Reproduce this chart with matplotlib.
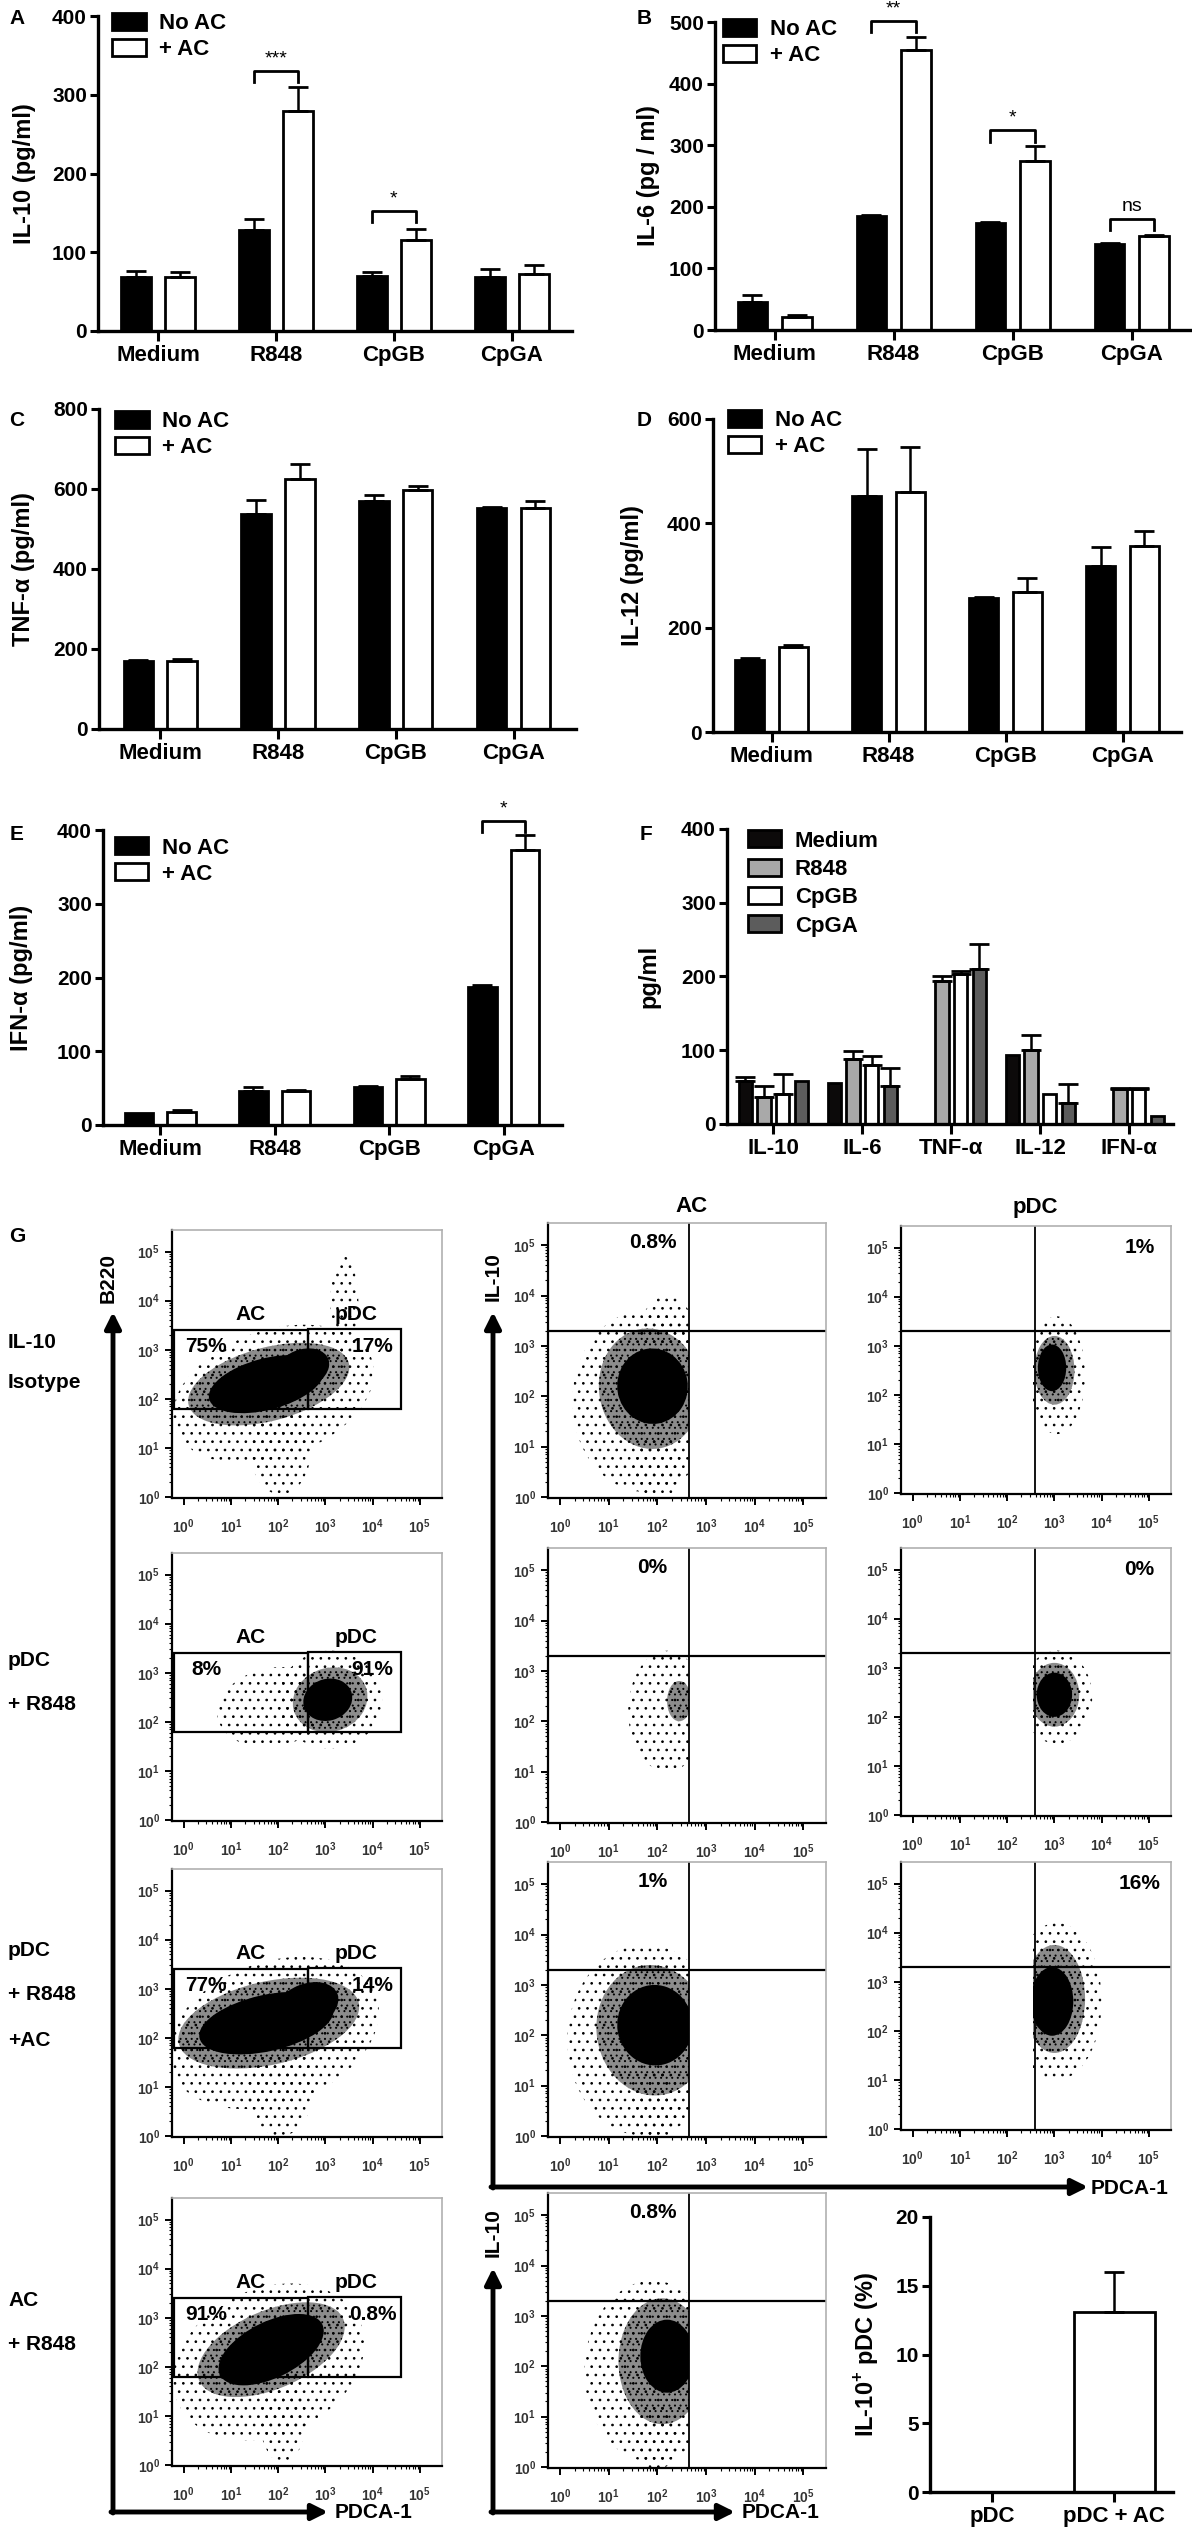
import numpy as np
import matplotlib
matplotlib.use('Agg')
import matplotlib.pyplot as plt
from matplotlib.patches import Patch, Rectangle, Ellipse

plt.rcParams['font.family'] = ['Liberation Sans', 'DejaVu Sans']
plt.rcParams['font.weight'] = 'bold'
plt.rcParams['axes.labelweight'] = 'bold'
plt.rcParams['mathtext.fontset'] = 'custom'
plt.rcParams['mathtext.rm'] = 'Liberation Sans'
plt.rcParams['mathtext.bf'] = 'Liberation Sans:bold'
plt.rcParams['hatch.linewidth'] = 0.7

# ---- data ----
stimuli = ['Medium', 'R848', 'CpGB', 'CpGA']

il10_noac = [68, 128, 70, 69]
il10_noac_err = [8, 14, 5, 10]
il10_ac = [68, 279, 115, 73]
il10_ac_err = [7, 31, 15, 11]

il6_noac = [46, 185, 173, 139]
il6_noac_err = [11, 2, 2, 2]
il6_ac = [21, 454, 275, 152]
il6_ac_err = [3, 22, 23, 3]

tnf_noac = [171, 537, 570, 552]
tnf_noac_err = [2, 35, 15, 3]
tnf_ac = [171, 625, 597, 552]
tnf_ac_err = [3, 37, 10, 18]

il12_noac = [138, 452, 256, 319]
il12_noac_err = [3, 90, 2, 35]
il12_ac = [162, 460, 269, 356]
il12_ac_err = [4, 86, 27, 29]

ifn_noac = [16, 46, 52, 187]
ifn_noac_err = [0, 6, 1, 3]
ifn_ac = [18, 46, 62, 373]
ifn_ac_err = [2, 2, 4, 20]

# significance brackets: (category, bracket height, text)
sig_a = [(1, 330, '***'), (2, 152, '*')]
sig_b = [(1, 501, '**'), (2, 324, '*'), (3, 181, 'ns')]
sig_e = [(3, 412, '*')]

cytokines = ['IL-10', 'IL-6', 'TNF-α', 'IL-12', 'IFN-α']
pdc_medium = [58, 55, 0, 94, 0]
pdc_medium_err = [6, 0, 0, 0, 0]
pdc_r848 = [37, 88, 194, 101, 48]
pdc_r848_err = [15, 11, 6, 20, 1]
pdc_cpgb = [40, 80, 203, 41, 48]
pdc_cpgb_err = [28, 12, 5, 0, 1]
pdc_cpga = [58, 51, 210, 28, 11]
pdc_cpga_err = [0, 25, 34, 26, 0]

g_groups = ['pDC', 'pDC + AC']
g_il10_pos = [0, 13.1]
g_il10_err = [0, 2.9]

# flow plots
row_labels = [['IL-10', 'Isotype'], ['pDC', '+ R848'], ['pDC', '+ R848', '+AC'], ['AC', '+ R848']]
gate_pct = [('75%', '17%'), ('8%', '91%'), ('77%', '14%'), ('91%', '0.8%')]
mid_pct = ['0.8%', '0%', '1%', '0.8%']
right_pct = ['1%', '0%', '16%']

# dot clouds: (x centre, y centre, width, height, angle, density), log decades
left_clouds = [
    [(1.9, 2.1, 4.4, 2.6, 18, 'halo'), (2.05, 1.0, 1.3, 1.9, 0, 'halo'), (3.4, 3.9, 0.6, 2.0, 0, 'halo'),
     (1.8, 2.3, 3.5, 1.5, 14, 'mid'), (1.75, 2.3, 2.5, 1.05, 14, 'core'), (2.5, 2.6, 1.2, 0.8, 20, 'core')],
    [(1.9, 2.3, 2.4, 1.6, 10, 'halo'), (3.1, 2.45, 2.2, 2.0, 0, 'halo'),
     (3.1, 2.45, 1.6, 1.3, 15, 'mid'), (3.05, 2.45, 1.05, 0.85, 15, 'core')],
    [(1.9, 2.1, 4.6, 2.9, 18, 'halo'), (2.05, 1.0, 1.4, 2.0, 0, 'halo'),
     (1.8, 2.3, 3.9, 1.7, 12, 'mid'), (1.75, 2.3, 2.9, 1.15, 12, 'core'), (2.6, 2.65, 1.4, 0.9, 20, 'core')],
    [(1.8, 2.1, 4.2, 3.0, 22, 'halo'), (2.1, 1.0, 1.0, 1.9, 0, 'halo'),
     (1.85, 2.35, 3.3, 1.6, 22, 'mid'), (1.85, 2.35, 2.4, 1.15, 25, 'core')],
]
mid_clouds = [
    [(1.75, 1.9, 3.0, 3.6, 0, 'halo'), (2.0, 0.6, 1.0, 1.3, 0, 'halo'), (2.2, 3.1, 1.2, 1.8, 0, 'halo'),
     (1.85, 2.15, 2.1, 2.4, 10, 'mid'), (1.9, 2.2, 1.45, 1.5, 10, 'core')],
    [(2.2, 2.2, 1.6, 2.4, 0, 'halo'), (2.45, 2.4, 0.5, 0.8, 0, 'mid')],
    [(1.75, 1.9, 3.2, 3.8, 0, 'halo'), (2.0, 0.6, 1.0, 1.4, 0, 'halo'),
     (1.9, 2.1, 2.3, 2.6, 10, 'mid'), (1.95, 2.2, 1.55, 1.6, 10, 'core')],
    [(1.9, 1.9, 2.8, 3.6, 0, 'halo'), (2.0, 0.6, 0.9, 1.3, 0, 'halo'),
     (2.1, 2.1, 1.8, 2.5, 0, 'mid'), (2.2, 2.2, 1.1, 1.45, 0, 'core')],
]
right_clouds = [
    [(3.05, 2.4, 1.2, 2.4, 0, 'halo'), (3.0, 2.5, 0.85, 1.4, 0, 'mid'), (2.95, 2.55, 0.6, 0.95, 0, 'core')],
    [(3.05, 2.4, 1.5, 1.9, 0, 'halo'), (3.0, 2.45, 1.05, 1.3, 0, 'mid'), (3.0, 2.45, 0.75, 0.9, 0, 'core')],
    [(3.05, 2.6, 1.9, 3.2, 0, 'halo'), (3.0, 2.65, 1.3, 2.2, 0, 'mid'), (2.95, 2.6, 0.9, 1.4, 0, 'core')],
]

W, H = 1192, 2528
fig = plt.figure(figsize=(W / 100, H / 100), dpi=100)


def px_axes(x0, y0, x1, y1):
    return fig.add_axes([x0 / W, 1 - y1 / H, (x1 - x0) / W, (y1 - y0) / H])


def bar_panel(box, cats, series, colors, labels, xlim, ytop, ystep, ylabel, labelx,
              width, offsets, leg_anchor, leg_spacing=0.22):
    ax = px_axes(*box)
    x = np.arange(len(cats))
    for (vals, errs), col, off in zip(series, colors, offsets):
        ax.bar(x + off, vals, width, color=col, edgecolor='black', linewidth=2, zorder=2)
        errs = np.array(errs)
        keep = errs > 0
        ax.errorbar((x + off)[keep], np.array(vals)[keep], yerr=[np.zeros(keep.sum()), errs[keep]],
                    fmt='none', ecolor='black', elinewidth=1.8, capsize=7, capthick=2, zorder=3)
    ax.set_xlim(*xlim)
    ax.set_ylim(0, ytop)
    ax.set_yticks(np.arange(0, ytop + 1, ystep))
    ax.set_xticks(x)
    ax.set_xticklabels(cats, fontsize=16)
    for s in ['top', 'right']:
        ax.spines[s].set_visible(False)
    for s in ['left', 'bottom']:
        ax.spines[s].set_linewidth(2.4)
    ax.tick_params(axis='y', length=6, width=2.2, labelsize=15, pad=2)
    ax.tick_params(axis='x', length=7, width=2.2, pad=3)
    ax.set_ylabel(ylabel, fontsize=17, fontweight='bold')
    ax.yaxis.set_label_coords(labelx, 0.5)
    if labels:
        handles = [Patch(facecolor=c, edgecolor='black', linewidth=2, label=l) for c, l in zip(colors, labels)]
        ax.legend(handles=handles, loc='upper left', bbox_to_anchor=leg_anchor, frameon=False, fontsize=16,
                  handlelength=1.5, handleheight=0.8, handletextpad=0.6, labelspacing=leg_spacing,
                  borderaxespad=0, borderpad=0)
    return ax


def brackets(ax, sigs, offsets, leg):
    for cat, level, txt in sigs:
        x1, x2 = cat + offsets[0], cat + offsets[1]
        ax.plot([x1, x1, x2, x2], [level - leg, level, level, level - leg], color='black', lw=2, clip_on=False)
        ax.text((x1 + x2) / 2, level + leg * 0.35, txt, ha='center', va='bottom', fontsize=14,
                fontweight='normal', clip_on=False)


two = [-0.186, 0.186]

# A
ax_a = bar_panel((98, 16, 572, 331), stimuli, [(il10_noac, il10_noac_err), (il10_ac, il10_ac_err)],
                 ['black', 'white'], ['No AC', '+ AC'], (-0.51, 3.51), 400, 100, 'IL-10 (pg/ml)', -0.13,
                 0.25, two, (0.03, 1.01))
brackets(ax_a, sig_a, two, 14)

# B
ax_b = bar_panel((715, 22, 1190, 330), stimuli, [(il6_noac, il6_noac_err), (il6_ac, il6_ac_err)],
                 ['black', 'white'], ['No AC', '+ AC'], (-0.5, 3.49), 500, 100, 'IL-6 (pg / ml)', -0.116,
                 0.25, two, (0.017, 1.01))
brackets(ax_b, sig_b, two, 18)

# C
bar_panel((99, 409, 576, 729), stimuli, [(tnf_noac, tnf_noac_err), (tnf_ac, tnf_ac_err)],
          ['black', 'white'], ['No AC', '+ AC'], (-0.52, 3.53), 800, 200, 'TNF-α (pg/ml)', -0.134,
          0.25, two, (0.034, 0.995))

# D
bar_panel((713, 419, 1181, 732), stimuli, [(il12_noac, il12_noac_err), (il12_ac, il12_ac_err)],
          ['black', 'white'], ['No AC', '+ AC'], (-0.5, 3.5), 600, 200, 'IL-12 (pg/ml)', -0.147,
          0.25, two, (0.032, 1.03))

# E
ax_e = bar_panel((103, 830, 562, 1125), stimuli, [(ifn_noac, ifn_noac_err), (ifn_ac, ifn_ac_err)],
                 ['black', 'white'], ['No AC', '+ AC'], (-0.5, 3.51), 400, 100, 'IFN-α (pg/ml)', -0.152,
                 0.25, two, (0.026, 0.975))
brackets(ax_e, sig_e, two, 15)

# F
four = [-0.315, -0.105, 0.105, 0.315]
bar_panel((727, 829, 1173, 1124), cytokines,
          [(pdc_medium, pdc_medium_err), (pdc_r848, pdc_r848_err), (pdc_cpgb, pdc_cpgb_err),
           (pdc_cpga, pdc_cpga_err)],
          ['#0c0a0a', '#a9a9a9', 'white', '#5c5c5c'], stimuli, (-0.52, 4.49), 400, 100, 'pg/ml', -0.15,
          0.15, four, (0.047, 0.995), leg_spacing=0.32)

# G bar chart
bar_panel((930, 2217, 1173, 2492), g_groups, [(g_il10_pos, g_il10_err)], ['white'], None,
          (-0.51, 1.48), 20, 5, r'IL-10$^{\bf{+}}$ pDC (%)', -0.2, 0.66, [0.0], None)

# ---- flow cytometry plots ----
XL, YL = (-0.25, 5.47), (-0.02, 5.44)
minor = [n + np.log10(k) for n in range(5) for k in range(2, 10)]


def flow_axes(x0, y0, x1, y1):
    ax = px_axes(x0, y0, x1, y1)
    ax.set_xlim(*XL)
    ax.set_ylim(*YL)
    for s in ['top', 'right']:
        ax.spines[s].set_color('#b0b0b0')
        ax.spines[s].set_linewidth(1.2)
    for s in ['left', 'bottom']:
        ax.spines[s].set_linewidth(1.6)
    ticks = list(range(6))
    labs = [r'$10^{%d}$' % t for t in ticks]
    ax.set_xticks(ticks)
    ax.set_xticklabels(labs)
    ax.set_yticks(ticks)
    ax.set_yticklabels(labs)
    ax.set_xticks(minor, minor=True)
    ax.set_yticks(minor, minor=True)
    ax.tick_params(which='major', length=5, width=1.4, labelsize=10, colors='black', labelcolor='#333333')
    ax.tick_params(axis='x', which='major', pad=9)
    ax.tick_params(which='minor', length=2.5, width=0.8)
    return ax


def draw_clouds(ax, clouds, clip=None):
    for cx, cy, w, h, ang, kind in clouds:
        if kind == 'core':
            e = Ellipse((cx, cy), w, h, angle=ang, facecolor='black', edgecolor='none', lw=0)
        elif kind == 'mid':
            e = Ellipse((cx, cy), w, h, angle=ang, facecolor=(0, 0, 0, 0.45), edgecolor='black',
                        hatch='...', lw=0)
        else:
            e = Ellipse((cx, cy), w, h, angle=ang, facecolor='none', edgecolor='black', hatch='..', lw=0)
        ax.add_patch(e)
        if clip is not None:
            e.set_clip_path(clip)


left_tops = [1230, 1553, 1869, 2198]
mid_tops = [1223, 1548, 1862, 2193]
right_tops = [1226, 1548, 1862]

for i, top in enumerate(left_tops):
    ax = flow_axes(172, top, 442, top + 268)
    draw_clouds(ax, left_clouds[i])
    ax.add_patch(Rectangle((-0.2, 1.8), 2.83, 1.6, fill=False, edgecolor='black', lw=1.6, zorder=4))
    ax.add_patch(Rectangle((2.63, 1.8), 1.97, 1.62, fill=False, edgecolor='black', lw=1.6, zorder=4))
    ax.text(1.42, 3.72, 'AC', ha='center', va='center', fontsize=15)
    ax.text(3.64, 3.72, 'pDC', ha='center', va='center', fontsize=15)
    ax.text(0.47, 3.06, gate_pct[i][0], ha='center', va='center', fontsize=15)
    ax.text(4.0, 3.06, gate_pct[i][1], ha='center', va='center', fontsize=15)

for i, top in enumerate(mid_tops):
    ax = flow_axes(548, top, 826, top + 275)
    clip = Rectangle((XL[0], YL[0]), 2.65 - XL[0], YL[1] - YL[0], transform=ax.transData)
    draw_clouds(ax, mid_clouds[i], clip)
    ax.axvline(2.65, color='black', lw=1.3)
    ax.axhline(3.3, color='black', lw=1.6)
    ax.text(1.9, 5.05, mid_pct[i], ha='center', va='center', fontsize=15)

for i, top in enumerate(right_tops):
    ax = flow_axes(901, top, 1171, top + 268)
    clip = Rectangle((2.55, YL[0]), XL[1] - 2.55, YL[1] - YL[0], transform=ax.transData)
    draw_clouds(ax, right_clouds[i], clip)
    ax.axvline(2.58, color='black', lw=1.3)
    ax.axhline(3.3, color='black', lw=1.6)
    ax.text(4.8, 5.0, right_pct[i], ha='center', va='center', fontsize=15)

# ---- overlay: panel letters, row labels, big axis arrows ----
ov = fig.add_axes([0, 0, 1, 1])
ov.set_xlim(0, W)
ov.set_ylim(H, 0)
ov.axis('off')

for letter, lx, ly in [('A', 17, 18), ('B', 644, 18), ('C', 17, 420), ('D', 644, 420),
                       ('E', 17, 835), ('F', 646, 835), ('G', 17, 1237)]:
    ov.text(lx, ly, letter, ha='center', va='center', fontsize=15)

ov.text(691, 1207, 'AC', ha='center', va='center', fontsize=16)
ov.text(1035, 1207, 'pDC', ha='center', va='center', fontsize=16)

label_y = [[1342, 1383], [1660, 1705], [1950, 1995, 2040], [2300, 2345]]
for lines, ys in zip(row_labels, label_y):
    for txt, yy in zip(lines, ys):
        ov.text(8, yy, txt, ha='left', va='center', fontsize=15)

arrow = dict(arrowstyle='-|>', lw=3.5, color='black', mutation_scale=24, shrinkA=0, shrinkB=0)
# left column axes
ov.annotate('', xy=(113, 1312), xytext=(113, 2513), arrowprops=arrow)
ov.annotate('', xy=(328, 2512), xytext=(111, 2512), arrowprops=arrow)
ov.text(108, 1278, 'B220', rotation=90, ha='center', va='center', fontsize=15)
ov.text(374, 2512, 'PDCA-1', ha='center', va='center', fontsize=15)
# middle block axes
ov.annotate('', xy=(493, 1312), xytext=(493, 2188), arrowprops=arrow)
ov.annotate('', xy=(1088, 2187), xytext=(491, 2187), arrowprops=arrow)
ov.text(493, 1277, 'IL-10', rotation=90, ha='center', va='center', fontsize=15)
ov.text(1130, 2188, 'PDCA-1', ha='center', va='center', fontsize=15)
# bottom middle plot axes
ov.annotate('', xy=(493, 2268), xytext=(493, 2513), arrowprops=arrow)
ov.annotate('', xy=(735, 2512), xytext=(491, 2512), arrowprops=arrow)
ov.text(493, 2233, 'IL-10', rotation=90, ha='center', va='center', fontsize=15)
ov.text(781, 2512, 'PDCA-1', ha='center', va='center', fontsize=15)

fig.savefig('out.png', dpi=100)
